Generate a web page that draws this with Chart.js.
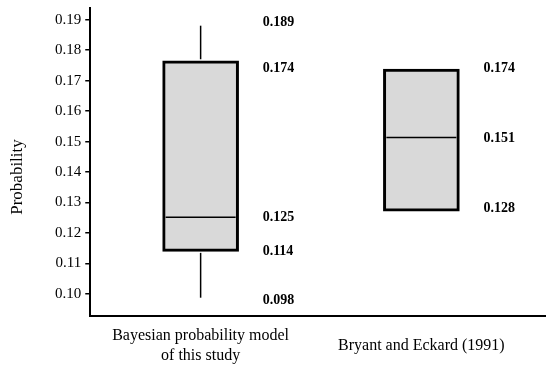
<!DOCTYPE html>
<html>
<head>
<meta charset="utf-8">
<script src="https://cdn.jsdelivr.net/npm/chart.js@4"></script>
<style>
  html, body { margin: 0; padding: 0; background: #fff; }
  #wrap { width: 550px; height: 370px; }
</style>
</head>
<body>
<div id="wrap"><canvas id="boxChart"></canvas></div>
<script>
// datos del diagrama de caja
const categories = [['Bayesian probability model', 'of this study'], ['Bryant and Eckard (1991)']];
const whiskerLow = [0.0988, null];
const q1 = [0.114, 0.1272];
const median = [0.1252, 0.1513];
const q3 = [0.1765, 0.1738];
const whiskerHigh = [0.188, null];
const valueLabels = [['0.189', '0.174', '0.125', '0.114', '0.098'], ['0.174', '0.151', '0.128']];
const yTicks = [0.10, 0.11, 0.12, 0.13, 0.14, 0.15, 0.16, 0.17, 0.18, 0.19];

const serif = '"Liberation Serif", "Times New Roman", serif';

// bigotes, mediana y textos
const boxExtras = {
    id: 'boxExtras',
    afterDatasetsDraw(chart) {
        const { ctx, chartArea, scales: { x, y } } = chart;
        ctx.save();
        ctx.strokeStyle = '#000';
        ctx.lineWidth = 1.5;

        categories.forEach((cat, i) => {
            const cx = x.getPixelForValue(i + 1);
            const line = (x1, y1, x2, y2) => {
                ctx.beginPath();
                ctx.moveTo(x1, y1);
                ctx.lineTo(x2, y2);
                ctx.stroke();
            };
            line(cx - 35, y.getPixelForValue(median[i]), cx + 35, y.getPixelForValue(median[i]));
            if (whiskerHigh[i] != null) {
                line(cx, y.getPixelForValue(q3[i]) - 1.5, cx, y.getPixelForValue(whiskerHigh[i]));
            }
            if (whiskerLow[i] != null) {
                line(cx, y.getPixelForValue(q1[i]) + 1.5, cx, y.getPixelForValue(whiskerLow[i]));
            }
        });

        // valores en negrita a la derecha de cada caja
        ctx.fillStyle = '#000';
        ctx.font = 'bold 14px ' + serif;
        ctx.textAlign = 'left';
        ctx.textBaseline = 'middle';
        valueLabels.forEach((list, i) => {
            const lx = x.getPixelForValue(i + 1) + 62;
            list.forEach(t => ctx.fillText(t, lx, y.getPixelForValue(parseFloat(t))));
        });

        // nombres de las categorias
        ctx.font = '16px ' + serif;
        ctx.textAlign = 'center';
        categories.forEach((lines, i) => {
            const cx = x.getPixelForValue(i + 1);
            const mid = chartArea.bottom + 30;
            lines.forEach((l, k) => ctx.fillText(l, cx, mid + (k - (lines.length - 1) / 2) * 20));
        });

        // titulo del eje y, un poco por debajo del centro como en el original
        ctx.font = '17px ' + serif;
        ctx.translate(18, (chartArea.top + chartArea.bottom) / 2 + 15);
        ctx.rotate(-Math.PI / 2);
        ctx.fillText('Probability', 0, 0);
        ctx.restore();
    }
};

new Chart(document.getElementById('boxChart'), {
    type: 'bar',
    data: {
        datasets: [{
            data: categories.map((c, i) => ({ x: i + 1, y: [q1[i], q3[i]] })),
            backgroundColor: '#d9d9d9',
            borderColor: '#000',
            borderWidth: 3,
            borderSkipped: false,
            barThickness: 76
        }]
    },
    options: {
        responsive: true,
        maintainAspectRatio: false,
        animation: false,
        layout: { padding: { top: 8, right: 5, bottom: 46, left: 51 } },
        plugins: { legend: { display: false }, tooltip: { enabled: false } },
        scales: {
            x: {
                type: 'linear',
                offset: false,
                min: 0.5,
                max: 2.56,
                ticks: { display: false },
                grid: { display: false },
                border: { color: '#000', width: 2 }
            },
            y: {
                min: 0.0928,
                max: 0.1938,
                afterBuildTicks: s => { s.ticks = yTicks.map(v => ({ value: v })); },
                afterFit: s => { s.paddingTop = 0; s.paddingBottom = 0; },
                ticks: {
                    callback: v => v.toFixed(2),
                    color: '#000',
                    font: { family: serif, size: 15 },
                    padding: 4
                },
                grid: { drawOnChartArea: false, drawTicks: true, tickLength: 5, color: '#000', lineWidth: 1.5 },
                border: { color: '#000', width: 2 }
            }
        }
    },
    plugins: [boxExtras]
});
</script>
</body>
</html>
